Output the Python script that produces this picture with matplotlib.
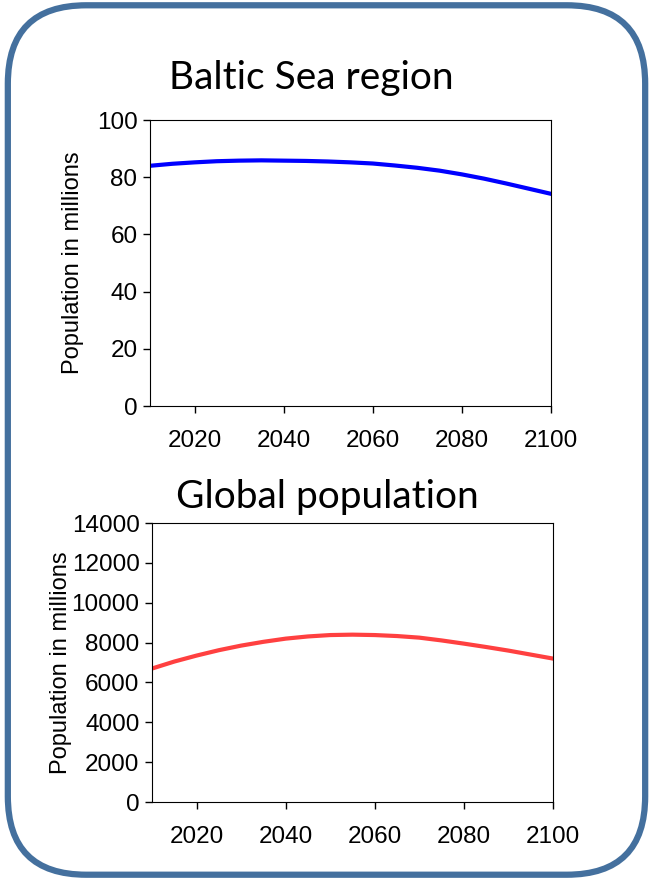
import matplotlib.pyplot as plt
from matplotlib.patches import FancyBboxPatch

years = [2010, 2015, 2020, 2025, 2030, 2035, 2040, 2045, 2050, 2055, 2060,
         2065, 2070, 2075, 2080, 2085, 2090, 2095, 2100]
baltic = [84.0, 84.7, 85.2, 85.6, 85.8, 85.9, 85.8, 85.7, 85.5, 85.2, 84.8,
          84.1, 83.3, 82.3, 81.0, 79.5, 77.8, 76.0, 74.2]
world = [6700, 7050, 7350, 7620, 7850, 8040, 8200, 8310, 8380, 8400, 8380,
         8330, 8250, 8110, 7950, 7780, 7600, 7400, 7200]
xticks = [2020, 2040, 2060, 2080, 2100]

fig = plt.figure(figsize=(6.53, 8.80), dpi=100)

# rounded frame round the whole picture
frame = FancyBboxPatch((0.012, 0.006), 0.976, 0.988,
                       boxstyle="round,pad=0,rounding_size=0.12",
                       transform=fig.transFigure, facecolor='none',
                       edgecolor='#44709e', linewidth=4.5,
                       mutation_aspect=653/880, zorder=-1)
fig.patches.append(frame)

tickfont = {'family': 'Liberation Sans', 'size': 17}

def style(ax, ymax, ystep):
    ax.set_xlim(2010, 2100)
    ax.set_ylim(0, ymax)
    ax.set_xticks(xticks)
    ax.set_yticks(range(0, ymax + 1, ystep))
    ax.tick_params(direction='out', length=5, width=1, colors='black')
    ax.tick_params(axis='x', pad=12)
    ax.tick_params(axis='y', pad=4)
    for lab in ax.get_xticklabels() + ax.get_yticklabels():
        lab.set_fontfamily('Liberation Sans')
        lab.set_fontsize(17.5)
    for s in ax.spines.values():
        s.set_linewidth(0.8)
    ax.set_ylabel("Population in millions", fontdict=tickfont)
    ax.patch.set_alpha(0)

ax1 = fig.add_axes([0.2297, 0.5386, 0.614, 0.325])
ax1.plot(years, baltic, color='#0000ff', linewidth=3)
style(ax1, 100, 20)
ax1.yaxis.set_label_coords(-0.165, 0.5)

ax2 = fig.add_axes([0.2328, 0.0886, 0.614, 0.317])
ax2.plot(years, world, color='#ff4040', linewidth=3)
style(ax2, 14000, 2000)
ax2.yaxis.set_label_coords(-0.2, 0.5)

fig.text(311/653, 1 - 78/880, "Baltic Sea region", ha='center', va='center',
         fontsize=28, family='Lato')
fig.text(327/653, 1 - 497/880, "Global population", ha='center', va='center',
         fontsize=28, family='Lato')

fig.savefig("out.png", dpi=100)
